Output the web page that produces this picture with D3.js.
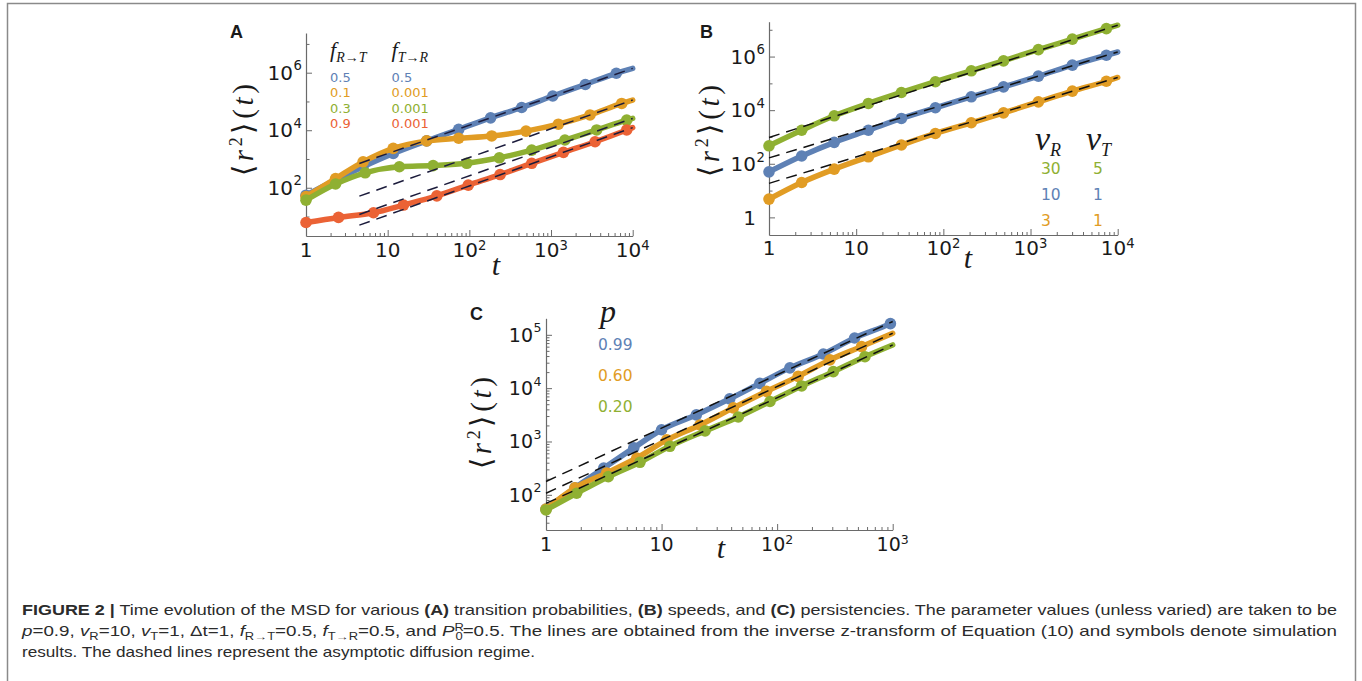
<!DOCTYPE html>
<html>
<head>
<meta charset="utf-8">
<script src="https://cdn.jsdelivr.net/npm/d3@7"></script>
<style>
body { margin: 0; background: #fff; }
svg text { fill: #1a1a1a; }
</style>
</head>
<body>
<div id="fig"></div>
<script>
// colours of the series (Mathematica default palette)
var blue = "#5e81b5", orange = "#e19c24", green = "#8fb032", red = "#eb6235";

// ---- panel A : transition probabilities ----
var tA_blue = [1, 2.3, 5, 11.7, 30, 74, 182, 437, 1050, 2630, 6300];
var yA_blue = [55, 186, 537, 1550, 4270, 10700, 26900, 61700, 155000, 389000, 955000];
var tA_orange = [1, 2.3, 5, 11.7, 30, 74, 188, 494, 1230, 3000, 7330];
var yA_orange = [49, 209, 794, 2340, 4270, 5250, 6310, 9330, 16200, 33900, 85100];
var tA_green = [1, 2.3, 5.3, 13.9, 36, 93, 233, 580, 1480, 3620, 8450];
var yA_green = [37, 135, 331, 537, 589, 708, 1100, 2040, 4570, 10200, 22400];
var tA_red = [1, 2.5, 6.7, 15.6, 40, 97, 238, 580, 1420, 3460, 8450];
var yA_red = [6.2, 9.3, 13.5, 25, 52, 123, 288, 708, 1700, 3980, 10200];
var endA = [1410000, 112000, 25700, 12300];          // curve value at t = 10^4
var asymA_t = [4.5, 10000];
var asymA = [[700, 1410000], [51, 112000], [11.8, 25700], [5.0, 12300]];
var legendA_RT = ["0.5", "0.1", "0.3", "0.9"];
var legendA_TR = ["0.5", "0.001", "0.001", "0.001"];

// ---- panel B : speeds ----
var tB = [1, 2.37, 5.6, 13.8, 33, 81, 209, 490, 1230, 3020, 7410];
var yB_green = [468, 1780, 6170, 17800, 45700, 115000, 295000, 692000, 1820000, 4470000, 11000000];
var yB_blue = [50, 195, 631, 1780, 4900, 12300, 31600, 74100, 186000, 479000, 1120000];
var yB_orange = [4.8, 20, 63, 182, 501, 1350, 3390, 7940, 20400, 51300, 120000];
var endB = [14800000, 1480000, 166000];
var asymB_t = [1, 10000];
var asymB = [[955, 14800000], [166, 1480000], [18.6, 166000]];
var legendB_vR = ["30", "10", "3"];
var legendB_vT = ["5", "1", "1"];

// ---- panel C : persistencies ----
var tC_blue = [1, 1.78, 3.16, 5.75, 10, 20, 38.9, 70.8, 129, 251, 468, 955];
var yC_blue = [54, 135, 316, 759, 1660, 3160, 6310, 12300, 24000, 43700, 87100, 162000];
var tC_orange = [1, 1.78, 3.35, 6.1, 11.1, 21.5, 41.8, 81, 152, 286, 538];
var yC_orange = [54, 135, 257, 490, 1070, 2040, 4270, 8710, 16600, 33900, 60300];
var tC_green = [1, 1.84, 3.46, 6.5, 11.8, 23.8, 46.1, 86.7, 163, 306, 575];
var yC_green = [52, 107, 219, 407, 813, 1580, 2880, 5620, 11000, 20400, 38900];
var endC = [170000, 107000, 64600];
var asymC_t = [1, 1000];
var asymC = [[178, 178000], [107, 107000], [69, 64600]];
var legendC_p = ["0.99", "0.60", "0.20"];

var sansFont = "'DejaVu Sans', sans-serif";
var mathFont = "'Liberation Serif', 'DejaVu Serif', serif";

var svg = d3.select("#fig").append("svg")
    .attr("width", 1362)
    .attr("height", 681);

// frame round the figure
svg.append("rect")
    .attr("x", 7.5).attr("y", 3.5)
    .attr("width", 1348).attr("height", 700)
    .attr("fill", "none")
    .attr("stroke", "#8a8a8a")
    .attr("stroke-width", 1.5);

function minorTicks(lo, hi) {
    var out = [];
    for (var e = lo; e < hi; e++)
        for (var k = 2; k <= 9; k++) out.push(k * Math.pow(10, e));
    return out;
}

function zip(ts, ys, tEnd, yEnd) {
    var pts = ts.map(function(t, i) { return [t, ys[i]]; });
    if (tEnd) pts.push([tEnd, yEnd]);
    return pts;
}

function draw_panel(p) {
    var g = svg.append("g");
    var x = d3.scaleLog().domain(p.xDomain).range([p.left, p.right]);
    var y = d3.scaleLog().domain(p.yDomain).range([p.bottom, p.top]);

    // axes, ticks pointing inwards
    g.append("g")
        .attr("transform", "translate(0," + p.bottom + ")")
        .call(d3.axisBottom(x).tickValues(p.xMajor).tickSize(-6).tickSizeOuter(0).tickFormat(""));
    g.append("g")
        .attr("transform", "translate(0," + p.bottom + ")")
        .call(d3.axisBottom(x).tickValues(p.xMinor).tickSize(-3).tickSizeOuter(0).tickFormat(""))
        .select(".domain").remove();
    g.append("g")
        .attr("transform", "translate(" + p.left + ",0)")
        .call(d3.axisLeft(y).tickValues(p.yMajor).tickSize(-6).tickSizeOuter(0).tickFormat(""));
    g.append("g")
        .attr("transform", "translate(" + p.left + ",0)")
        .call(d3.axisLeft(y).tickValues(p.yMinor).tickSize(-3.5).tickSizeOuter(0).tickFormat(""))
        .select(".domain").remove();
    g.selectAll(".domain").attr("stroke", "#6a6a6a").attr("stroke-width", 1.2);
    g.selectAll(".tick line").attr("stroke", "#6a6a6a").attr("stroke-width", 1);

    // x tick labels
    p.xMajor.forEach(function(v) {
        var e = Math.round(Math.log10(v));
        var t = g.append("text")
            .attr("x", x(v)).attr("y", p.bottom + p.xLabelDy)
            .attr("text-anchor", "middle")
            .style("font-family", sansFont)
            .style("font-size", p.tickFont + "px");
        if (e === 0) t.text("1");
        else if (e === 1) t.text("10");
        else {
            t.append("tspan").text("10");
            t.append("tspan").attr("dy", -7).style("font-size", (p.tickFont * 0.66) + "px").text(e);
        }
    });

    // y tick labels (base right aligned, exponent hanging out)
    p.yLabels.forEach(function(v) {
        var e = Math.round(Math.log10(v));
        var xb = p.left - 13;
        g.append("text")
            .attr("x", xb).attr("y", y(v))
            .attr("dy", "0.36em")
            .attr("text-anchor", "end")
            .style("font-family", sansFont)
            .style("font-size", p.tickFont + "px")
            .text(e === 0 ? "1" : "10");
        if (e > 1) {
            g.append("text")
                .attr("x", xb + 0.5).attr("y", y(v))
                .attr("dy", "0.36em")
                .attr("transform", "translate(0,-7)")
                .style("font-family", sansFont)
                .style("font-size", (p.tickFont * 0.66) + "px")
                .text(e);
        }
    });

    // axis titles
    var yl = g.append("text")
        .attr("transform", "translate(" + p.yTitle[0] + "," + p.yTitle[1] + ") rotate(-90)")
        .attr("text-anchor", "middle")
        .attr("dy", "0.3em")
        .attr("textLength", 92)
        .attr("lengthAdjust", "spacing")
        .style("font-family", mathFont)
        .style("font-size", "29px");
    yl.append("tspan").style("font-family", sansFont).style("font-weight", 300).text("\u27e8");
    yl.append("tspan").style("font-style", "italic").text("r");
    yl.append("tspan").attr("dy", -11).style("font-size", "18px").text("2");
    yl.append("tspan").attr("dy", 11).style("font-family", sansFont).style("font-weight", 300).text("\u27e9");
    yl.append("tspan").text("(");
    yl.append("tspan").style("font-style", "italic").text("t");
    yl.append("tspan").text(")");

    g.append("text")
        .attr("x", p.xTitle[0]).attr("y", p.xTitle[1])
        .attr("text-anchor", "middle")
        .style("font-family", mathFont)
        .style("font-style", "italic")
        .style("font-size", "30px")
        .text("t");

    // panel letter
    g.append("text")
        .attr("x", p.letterPos[0]).attr("y", p.letterPos[1])
        .style("font-family", "'Liberation Sans', Arial, sans-serif")
        .style("font-weight", "bold")
        .style("font-size", "18px")
        .text(p.letter);

    // curves + simulation symbols
    var line = d3.line()
        .x(function(d) { return x(d[0]); })
        .y(function(d) { return y(d[1]); })
        .curve(d3.curveMonotoneX);

    p.series.forEach(function(s) {
        var pts = zip(s.t, s.y, p.xDomain[1], s.end);
        g.append("path")
            .datum(pts)
            .attr("d", line)
            .attr("fill", "none")
            .attr("stroke", s.color)
            .attr("stroke-width", 5.5)
            .attr("stroke-linejoin", "round")
            .attr("stroke-linecap", "round");
        g.selectAll(null)
            .data(zip(s.t, s.y))
            .enter().append("circle")
            .attr("cx", function(d) { return x(d[0]); })
            .attr("cy", function(d) { return y(d[1]); })
            .attr("r", 5.8)
            .attr("fill", s.color);
    });

    // asymptotic diffusion lines
    p.asym.forEach(function(a) {
        g.append("path")
            .datum([[p.asymT[0], a[0]], [p.asymT[1], a[1]]])
            .attr("d", d3.line().x(function(d) { return x(d[0]); }).y(function(d) { return y(d[1]); }))
            .attr("fill", "none")
            .attr("stroke", p.dashColor)
            .attr("stroke-width", 1.5)
            .attr("stroke-dasharray", "11,7");
    });
    return g;
}

// panel A
var gA = draw_panel({
    letter: "A", letterPos: [230, 38],
    left: 306, right: 632.7, top: 33, bottom: 236,
    xDomain: [1, 1e4], yDomain: [2.1, 2.4e7],
    xMajor: [1, 10, 100, 1000, 10000], xMinor: minorTicks(0, 4),
    yMajor: [1e2, 1e4, 1e6], yMinor: [10, 1e3, 1e5, 1e7], yLabels: [1e2, 1e4, 1e6],
    tickFont: 20, xLabelDy: 21,
    yTitle: [244, 130], xTitle: [496, 275],
    dashColor: "#1c1c3c",
    asymT: asymA_t, asym: asymA,
    series: [
        { t: tA_blue, y: yA_blue, end: endA[0], color: blue },
        { t: tA_orange, y: yA_orange, end: endA[1], color: orange },
        { t: tA_green, y: yA_green, end: endA[2], color: green },
        { t: tA_red, y: yA_red, end: endA[3], color: red }
    ]
});

// panel B
var gB = draw_panel({
    letter: "B", letterPos: [700, 38],
    left: 769, right: 1117.7, top: 21.7, bottom: 235,
    xDomain: [1, 1e4], yDomain: [0.22, 2e7],
    xMajor: [1, 10, 100, 1000, 10000], xMinor: minorTicks(0, 4),
    yMajor: [1, 1e2, 1e4, 1e6], yMinor: [10, 1e3, 1e5, 1e7], yLabels: [1, 1e2, 1e4, 1e6],
    tickFont: 20, xLabelDy: 20,
    yTitle: [710, 131], xTitle: [968, 268],
    dashColor: "#111",
    asymT: asymB_t, asym: asymB,
    series: [
        { t: tB, y: yB_green, end: endB[0], color: green },
        { t: tB, y: yB_blue, end: endB[1], color: blue },
        { t: tB, y: yB_orange, end: endB[2], color: orange }
    ]
});

// panel C
var gC = draw_panel({
    letter: "C", letterPos: [470, 320],
    left: 546, right: 892.7, top: 318.3, bottom: 530,
    xDomain: [1, 1e3], yDomain: [21.9, 2.04e5],
    xMajor: [1, 10, 100, 1000], xMinor: minorTicks(0, 3),
    yMajor: [1e2, 1e3, 1e4, 1e5], yMinor: minorTicks(1, 5).filter(function(v) { return v > 21.9 && v < 2.04e5; }),
    yLabels: [1e2, 1e3, 1e4, 1e5],
    tickFont: 19, xLabelDy: 21,
    yTitle: [482, 423], xTitle: [721, 558],
    dashColor: "#111",
    asymT: asymC_t, asym: asymC,
    series: [
        { t: tC_blue, y: yC_blue, end: endC[0], color: blue },
        { t: tC_orange, y: yC_orange, end: endC[1], color: orange },
        { t: tC_green, y: yC_green, end: endC[2], color: green }
    ]
});

// ---- legends ----
function subHeader(g, x, y, main, sub, mainSize, subSize, subDy) {
    var t = g.append("text")
        .attr("x", x).attr("y", y)
        .style("font-family", mathFont)
        .style("font-style", "italic");
    t.append("tspan").style("font-size", mainSize + "px").text(main);
    if (sub) t.append("tspan").attr("dy", subDy).style("font-size", subSize + "px").text(sub);
}

var colA = [blue, orange, green, red];
subHeader(gA, 330, 57, "f", "R\u2192T", 22, 14, 5);
subHeader(gA, 391.5, 57, "f", "T\u2192R", 22, 14, 5);
legendA_RT.forEach(function(v, i) {
    gA.append("text").attr("x", 330).attr("y", 81.5 + i * 15.5)
        .style("font-family", sansFont).style("font-size", "13px")
        .style("fill", colA[i]).text(v);
    gA.append("text").attr("x", 391.5).attr("y", 81.5 + i * 15.5)
        .style("font-family", sansFont).style("font-size", "13px")
        .style("fill", colA[i]).text(legendA_TR[i]);
});

var colB = [green, blue, orange];
subHeader(gB, 1035, 150, "v", "R", 34, 18, 6);
subHeader(gB, 1086, 150, "v", "T", 34, 18, 6);
legendB_vR.forEach(function(v, i) {
    gB.append("text").attr("x", 1041).attr("y", 173.5 + i * 26)
        .style("font-family", sansFont).style("font-size", "15.5px")
        .style("fill", colB[i]).text(v);
    gB.append("text").attr("x", 1093).attr("y", 173.5 + i * 26)
        .style("font-family", sansFont).style("font-size", "15.5px")
        .style("fill", colB[i]).text(legendB_vT[i]);
});

var colC = [blue, orange, green];
subHeader(gC, 600, 322, "p", null, 32);
legendC_p.forEach(function(v, i) {
    gC.append("text").attr("x", 598).attr("y", 350 + i * 30.8)
        .style("font-family", sansFont).style("font-size", "15.5px")
        .style("fill", colC[i]).text(v);
});

// ---- caption ----
var capFont = "'Liberation Sans Narrow', 'Arial Narrow', 'Liberation Sans', Arial, sans-serif";
var caption1 = [
    ["FIGURE 2 |", "b"], [" Time evolution of the MSD for various ", ""], ["(A)", "b"],
    [" transition probabilities, ", ""], ["(B)", "b"], [" speeds, and ", ""], ["(C)", "b"],
    [" persistencies. The parameter values (unless varied) are taken to be", ""]
];
var caption2 = [
    ["p", "i"], ["=0.9, ", ""], ["v", "i"], ["R", "sub"], ["=10, ", ""], ["v", "i"], ["T", "sub"],
    ["=1, \u0394t=1, ", ""], ["f", "i"], ["R\u2192T", "sub"], ["=0.5, ", ""], ["f", "i"], ["T\u2192R", "sub"],
    ["=0.5, and ", ""], ["P", "i"], ["R", "sup"], ["0", "under"],
    ["=0.5. The lines are obtained from the inverse z-transform of Equation (10) and symbols denote simulation", ""]
];
var caption3 = [["results. The dashed lines represent the asymptotic diffusion regime.", ""]];

function captionLine(parts, yy, len) {
    var t = svg.append("text")
        .attr("x", 22).attr("y", yy)
        .attr("textLength", len)
        .attr("lengthAdjust", "spacingAndGlyphs")
        .style("font-family", capFont)
        .style("font-size", "14.5px")
        .style("fill", "#2b2b2b");
    var shift = 0;
    parts.forEach(function(pt) {
        var want = 0, dx = 0;
        if (pt[1] === "sub") want = 4;
        if (pt[1] === "sup") want = -5;
        if (pt[1] === "under") { want = 4; dx = -6.5; }
        var s = t.append("tspan").text(pt[0]);
        if (want !== shift) s.attr("dy", want - shift);
        if (dx) s.attr("dx", dx);
        shift = want;
        if (pt[1] === "b") s.style("font-weight", "bold");
        if (pt[1] === "i") s.style("font-style", "italic");
        if (pt[1] === "sub" || pt[1] === "sup" || pt[1] === "under") s.style("font-size", "10px");
    });
}
captionLine(caption1, 615, 1315);
captionLine(caption2, 636, 1315);
captionLine(caption3, 657, 513);
</script>
</body>
</html>
